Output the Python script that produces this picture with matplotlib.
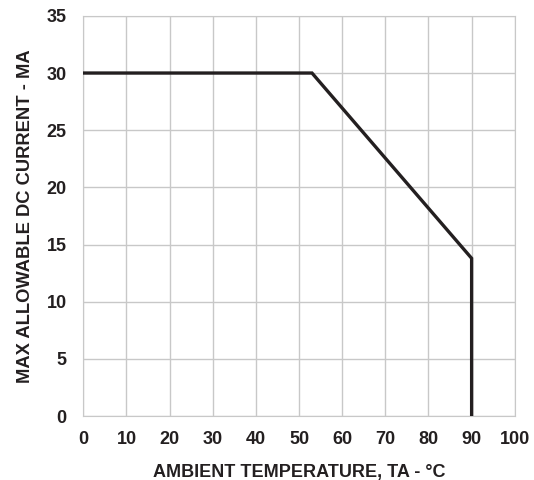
import matplotlib
matplotlib.use("Agg")
import matplotlib.pyplot as plt

temp = [0, 53, 90, 90]
current = [30, 30, 13.8, 0]
x_ticks = [0, 10, 20, 30, 40, 50, 60, 70, 80, 90, 100]
y_ticks = [0, 5, 10, 15, 20, 25, 30, 35]

plt.rcParams['font.family'] = ['Liberation Sans', 'DejaVu Sans']
ink = '#231f20'
fig = plt.figure(figsize=(5.34, 4.8), dpi=100)
ax = fig.add_axes([0.156, 0.133, 0.808, 0.834])
ax.plot(temp, current, color=ink, lw=2.4, solid_joinstyle='miter', zorder=3)
ax.set_xlim(0, 100)
ax.set_ylim(0, 35)
ax.set_xticks(x_ticks)
ax.set_yticks(y_ticks)
ax.grid(True, color='#c8c8c8', lw=1.0)
ax.tick_params(length=0, labelsize=13, labelcolor=ink)
ax.tick_params(axis='x', pad=11)
ax.tick_params(axis='y', pad=12)
for lab in ax.get_xticklabels() + ax.get_yticklabels():
    lab.set_fontweight('bold')
for s in ax.spines.values():
    s.set_color('#c8c8c8')
ax.set_xlabel('AMBIENT TEMPERATURE, TA - °C', fontsize=13, fontweight='bold',
              color=ink, labelpad=11)
ax.set_ylabel('MAX ALLOWABLE DC CURRENT - MA', fontsize=13.2, fontweight='bold',
              color=ink, labelpad=9)
fig.savefig('out.png', dpi=100)
